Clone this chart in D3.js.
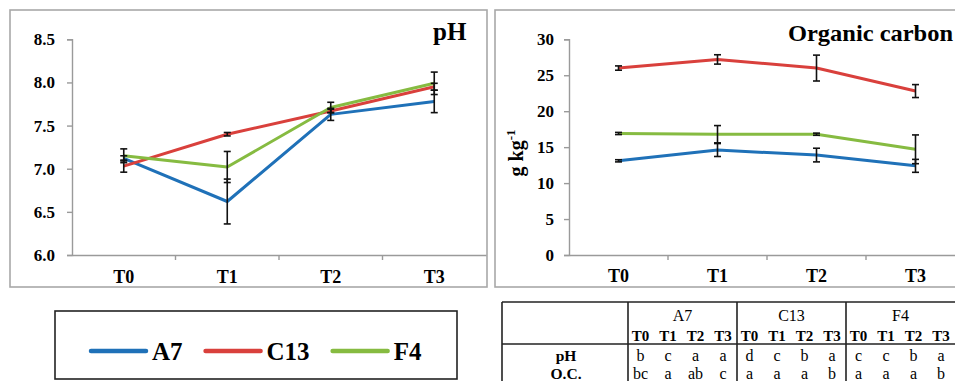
<!DOCTYPE html>
<html>
<head>
<meta charset="utf-8">
<script src="https://cdn.jsdelivr.net/npm/d3@7/dist/d3.min.js"></script>
<style>
  html, body { margin: 0; padding: 0; background: #fff; }
  svg { display: block; }
  svg text { font-family: "Liberation Serif", "Times New Roman", serif !important; fill: #000; }
</style>
</head>
<body>
<svg id="chart" width="955" height="381"></svg>
<script>
// Sampling times and strains
const periods = ["T0", "T1", "T2", "T3"];
const strains = ["A7", "C13", "F4"];
const strainColors = ["#1f71b8", "#d9403c", "#86bb41"];

// pH means and standard errors
const phA7 = [7.12, 6.62, 7.63, 7.78];
const phA7Err = [0.03, 0.26, 0.07, 0.13];
const phC13 = [7.03, 7.40, 7.67, 7.95];
const phC13Err = [0.07, 0.02, 0.02, 0.04];
const phF4 = [7.15, 7.02, 7.71, 7.99];
const phF4Err = [0.08, 0.18, 0.06, 0.13];
const phTicks = [6.0, 6.5, 7.0, 7.5, 8.0, 8.5];

// Organic carbon (g kg-1) means and standard errors
const ocA7 = [13.1, 14.6, 13.9, 12.4];
const ocA7Err = [0.15, 0.9, 0.95, 0.9];
const ocC13 = [26.0, 27.2, 26.0, 22.8];
const ocC13Err = [0.3, 0.65, 1.8, 0.9];
const ocF4 = [16.9, 16.8, 16.8, 14.7];
const ocF4Err = [0.15, 1.2, 0.15, 2.0];
const ocTicks = [0, 5, 10, 15, 20, 25, 30];

// Significance letters
const phLettersA7 = ["b", "c", "a", "a"];
const phLettersC13 = ["d", "c", "b", "a"];
const phLettersF4 = ["c", "c", "b", "a"];
const ocLettersA7 = ["bc", "a", "ab", "c"];
const ocLettersC13 = ["a", "a", "a", "b"];
const ocLettersF4 = ["a", "a", "a", "b"];
const rowLabels = ["pH", "O.C."];

const SERIF = "'Liberation Serif', 'Times New Roman', serif";
const svg = d3.select("#chart");
svg.append("rect").attr("width", 955).attr("height", 381).attr("fill", "#fff");

const AXIS = "#9a9a9a";

function panel(opts) {
  const g = svg.append("g").attr("font-family", SERIF);
  // frame
  g.append("rect")
    .attr("x", opts.frame[0]).attr("y", opts.frame[1])
    .attr("width", opts.frame[2]).attr("height", opts.frame[3])
    .attr("fill", "#fff").attr("stroke", "#a8a8a8").attr("stroke-width", 1.6);

  const x = d3.scaleBand().domain(periods).range(opts.xRange);
  const y = d3.scaleLinear().domain(opts.yDomain).range([255, 39.3]);

  // y axis
  const ya = g.append("g").attr("transform", `translate(${opts.xRange[0]},0)`)
    .call(d3.axisLeft(y).tickValues(opts.ticks).tickFormat(opts.fmt)
      .tickSize(5).tickPadding(opts.yPad));
  ya.attr("font-family", SERIF);
  ya.select(".domain").attr("stroke", AXIS).attr("stroke-width", 1.4);
  ya.selectAll(".tick line").attr("stroke", AXIS).attr("stroke-width", 1.4);
  ya.selectAll(".tick text").attr("font-size", 17).attr("font-weight", "bold");

  // x axis
  const xa = g.append("g").attr("transform", `translate(0,${y(opts.yDomain[0])})`)
    .call(d3.axisBottom(x).tickSize(0).tickPadding(opts.xPad));
  xa.attr("font-family", SERIF);
  xa.select(".domain").attr("stroke", AXIS).attr("stroke-width", 1.4);
  xa.selectAll(".tick text").attr("font-size", 18).attr("font-weight", "bold");
  // category boundary ticks
  g.selectAll(".bt").data(periods.slice(1)).enter().append("line")
    .attr("x1", d => x(d)).attr("x2", d => x(d))
    .attr("y1", y(opts.yDomain[0])).attr("y2", y(opts.yDomain[0]) + 5)
    .attr("stroke", AXIS).attr("stroke-width", 1.4);

  const cx = d => x(d) + x.bandwidth() / 2;
  const line = d3.line().x((d, i) => cx(periods[i])).y(d => y(d));

  opts.series.forEach((s, k) => {
    g.append("path").datum(s.v).attr("d", line)
      .attr("fill", "none").attr("stroke", strainColors[k])
      .attr("stroke-width", 3).attr("stroke-linejoin", "round");
  });

  // error bars
  opts.series.forEach((s) => {
    s.v.forEach((v, i) => {
      const px = cx(periods[i]);
      const lo = y(v - s.e[i]), hi = y(v + s.e[i]);
      const eb = g.append("g").attr("stroke", "#111").attr("stroke-width", 1.6);
      eb.append("line").attr("x1", px).attr("x2", px).attr("y1", lo).attr("y2", hi);
      eb.append("line").attr("x1", px - 3.5).attr("x2", px + 3.5).attr("y1", lo).attr("y2", lo);
      eb.append("line").attr("x1", px - 3.5).attr("x2", px + 3.5).attr("y1", hi).attr("y2", hi);
    });
  });

  const t = g.append("text").attr("x", opts.title.x).attr("y", opts.title.y)
    .attr("font-size", opts.title.size).attr("font-weight", "bold")
    .text(opts.title.text);
  if (opts.title.len) t.attr("textLength", opts.title.len).attr("lengthAdjust", "spacingAndGlyphs");
  return g;
}

panel({
  frame: [10, 10, 477, 277],
  xRange: [72, 486],
  yDomain: [6, 8.5],
  ticks: phTicks,
  fmt: d3.format(".1f"),
  yPad: 12, xPad: 15,
  series: [{ v: phA7, e: phA7Err }, { v: phC13, e: phC13Err }, { v: phF4, e: phF4Err }],
  title: { text: "pH", x: 433, y: 40, size: 25 }
});

const right = panel({
  frame: [495, 10, 480, 277],
  xRange: [569, 965],
  yDomain: [0, 30],
  ticks: ocTicks,
  fmt: d3.format("d"),
  yPad: 10, xPad: 14,
  series: [{ v: ocA7, e: ocA7Err }, { v: ocC13, e: ocC13Err }, { v: ocF4, e: ocF4Err }],
  title: { text: "Organic carbon", x: 788, y: 41, size: 24, len: 165 }
});

// y axis title
const yl = right.append("text")
  .attr("transform", "translate(523,153) rotate(-90)")
  .attr("text-anchor", "middle")
  .attr("font-size", 20).attr("font-weight", "bold");
yl.append("tspan").text("g kg");
yl.append("tspan").attr("dy", -8).attr("font-size", 13).text("-1");

// legend
const lg = svg.append("g").attr("font-family", SERIF);
lg.append("rect").attr("x", 55).attr("y", 311).attr("width", 402).attr("height", 68)
  .attr("fill", "#fff").attr("stroke", "#222").attr("stroke-width", 1.6);
let lx = 91;
strains.forEach((s, k) => {
  lg.append("line").attr("x1", lx).attr("x2", lx + 55).attr("y1", 351).attr("y2", 351)
    .attr("stroke", strainColors[k]).attr("stroke-width", 4.5).attr("stroke-linecap", "round");
  const t = lg.append("text").attr("x", lx + 61).attr("y", 360)
    .attr("font-size", 25).attr("font-weight", "bold").text(s);
  lx += 61 + t.node().getComputedTextLength() + 23;
});

// significance table
const tb = svg.append("g").attr("font-family", SERIF);
const groupX = d3.scaleBand().domain(strains).range([628, 955]);
const tableLines = [
  [502, 302, 960, 302], [502, 344, 960, 344], [502, 302, 502, 390],
  [628, 302, 628, 390], [groupX("C13"), 302, groupX("C13"), 390], [groupX("F4"), 302, groupX("F4"), 390]
];
tb.selectAll("line").data(tableLines).enter().append("line")
  .attr("x1", d => d[0]).attr("y1", d => d[1]).attr("x2", d => d[2]).attr("y2", d => d[3])
  .attr("stroke", "#222").attr("stroke-width", 1.6);

const phLetters = [phLettersA7, phLettersC13, phLettersF4];
const ocLetters = [ocLettersA7, ocLettersC13, ocLettersF4];
strains.forEach((s, k) => {
  const g0 = groupX(s);
  tb.append("text").attr("x", g0 + groupX.bandwidth() / 2).attr("y", 321)
    .attr("text-anchor", "middle").attr("font-size", 16).text(s);
  const sub = d3.scalePoint().domain(periods).range([g0 + 12.5, g0 + 95]);
  periods.forEach((p, i) => {
    tb.append("text").attr("x", sub(p)).attr("y", 341).attr("text-anchor", "middle")
      .attr("font-size", 15).attr("font-weight", "bold").text(p);
    tb.append("text").attr("x", sub(p)).attr("y", 361).attr("text-anchor", "middle")
      .attr("font-size", 16).text(phLetters[k][i]);
    tb.append("text").attr("x", sub(p)).attr("y", 379).attr("text-anchor", "middle")
      .attr("font-size", 16).text(ocLetters[k][i]);
  });
});
rowLabels.forEach((r, i) => {
  tb.append("text").attr("x", 566).attr("y", 361 + i * 18).attr("text-anchor", "middle")
    .attr("font-size", 15.5).attr("font-weight", "bold").text(r);
});
</script>
</body>
</html>
